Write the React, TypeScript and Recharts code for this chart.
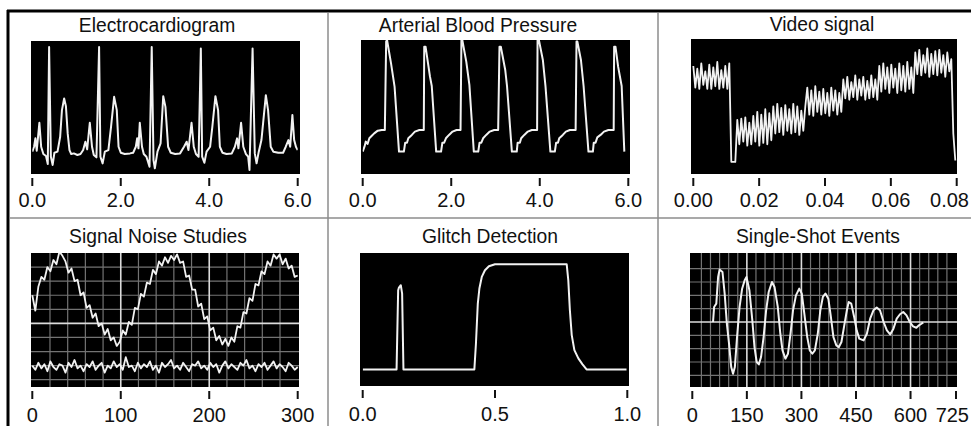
import type { ReactNode } from 'react'
import { CartesianGrid, Line, LineChart, ReferenceLine, XAxis, YAxis } from 'recharts'

const FONT = '"Liberation Sans", Arial, Helvetica, sans-serif'
const INK = '#111'
const TRACE = '#f2f2f2'
const GRID = '#737373'
const MAJOR = '#dcdcdc'
const TICK_SIZE = 20

// Electrocardiogram: [seconds, level 0..100]
const ecgTrace: [number, number][] = [
  [0, 16.8], [0.04, 20.5], [0.07, 26.8], [0.1, 17.5], [0.16, 38.5], [0.2, 20.5], [0.25, 15], [0.31, 13.5],
  [0.35, 7.5], [0.38, 95.5], [0.42, 13], [0.46, 6.8], [0.5, 16], [0.57, 16.8], [0.63, 28], [0.67, 48],
  [0.72, 56.8], [0.76, 51], [0.8, 30.5], [0.84, 18], [0.88, 15], [0.94, 15.5], [1.02, 14.3], [1.09, 15],
  [1.15, 18], [1.2, 24.3], [1.24, 18.5], [1.3, 38.5], [1.35, 20.5], [1.39, 14.3], [1.45, 12.5], [1.51, 95.5],
  [1.54, 13], [1.59, 8], [1.64, 16.8], [1.72, 18], [1.78, 35.5], [1.85, 58], [1.91, 48], [1.95, 20.5],
  [2, 16], [2.09, 15], [2.21, 15.5], [2.28, 16], [2.34, 20.5], [2.37, 26.8], [2.4, 19.3], [2.43, 38.5],
  [2.48, 20.5], [2.52, 15], [2.58, 13], [2.65, 5.5], [2.7, 95.5], [2.74, 10.5], [2.77, 4.3], [2.83, 16.8],
  [2.9, 23], [2.96, 58.5], [3.01, 50.5], [3.07, 20.5], [3.13, 16], [3.23, 15], [3.34, 15.5], [3.43, 20.5],
  [3.49, 24.3], [3.53, 18], [3.6, 38.5], [3.65, 20.5], [3.7, 15], [3.76, 13], [3.81, 94.3], [3.84, 13],
  [3.89, 8.5], [3.94, 16.8], [4.02, 20.5], [4.07, 35.5], [4.14, 58.5], [4.2, 48], [4.24, 20.5], [4.3, 16],
  [4.39, 15], [4.51, 15.5], [4.58, 20.5], [4.63, 26.8], [4.66, 19.3], [4.72, 38.5], [4.77, 20.5], [4.83, 15],
  [4.88, 13], [4.91, 3], [4.98, 94.3], [5.03, 15.5], [5.07, 8], [5.12, 16.8], [5.18, 25.5], [5.28, 59.3],
  [5.33, 48], [5.39, 20.5], [5.45, 16.8], [5.56, 16], [5.67, 16], [5.73, 20.5], [5.79, 25.5], [5.83, 20.5],
  [5.88, 44.3], [5.92, 25.5], [5.96, 20.5], [6, 18],
]
const ecgTicks = [0, 2, 4, 6]

// Arterial blood pressure: [seconds, level 0..100]
const abpTrace: [number, number][] = [
  [0, 16.8], [0.04, 20.5], [0.07, 24.3], [0.11, 22.5], [0.15, 26.8], [0.2, 28.5], [0.26, 30.5], [0.34, 32.5],
  [0.43, 33], [0.5, 33], [0.53, 99.3], [0.55, 100.5], [0.64, 83], [0.72, 65.5], [0.82, 16.8], [0.93, 16.8],
  [0.96, 23.5], [1, 23.5], [1.03, 26.8], [1.11, 29.3], [1.18, 31.8], [1.28, 33], [1.38, 33], [1.39, 95.5],
  [1.42, 95.5], [1.52, 73], [1.56, 66], [1.66, 16.8], [1.77, 16.8], [1.8, 23.5], [1.84, 23.5], [1.88, 26.8],
  [1.95, 29.3], [2.03, 31.8], [2.12, 33], [2.21, 33], [2.23, 100.5], [2.25, 100.5], [2.34, 84.3], [2.41, 66.8],
  [2.51, 16.8], [2.61, 16.8], [2.64, 23.5], [2.68, 23.5], [2.72, 26.8], [2.79, 29.3], [2.87, 31.8], [2.97, 33],
  [3.06, 33], [3.09, 95.5], [3.12, 95.5], [3.22, 78], [3.26, 66], [3.37, 16.8], [3.48, 16.8], [3.5, 23.5],
  [3.55, 23.5], [3.58, 26.8], [3.65, 29.3], [3.73, 31.8], [3.82, 33], [3.94, 33], [3.95, 100.5], [3.98, 100.5],
  [4.07, 85.5], [4.13, 65.5], [4.24, 16.8], [4.34, 16.8], [4.37, 23.5], [4.41, 23.5], [4.44, 26.8], [4.52, 29.3],
  [4.59, 31.8], [4.68, 33], [4.81, 33], [4.83, 99.3], [4.85, 99.3], [4.93, 85.5], [4.99, 66], [5.1, 16.8],
  [5.2, 16.8], [5.22, 23.5], [5.26, 23.5], [5.3, 27.5], [5.38, 29.5], [5.45, 31.8], [5.55, 33], [5.67, 33],
  [5.68, 95.5], [5.71, 95.5], [5.77, 80.5], [5.85, 66], [5.91, 16.8],
]
const abpTicks = [0, 2, 4, 6]

// Video signal: evenly sampled levels 0..100 across the trace
const videoLevels = [
  80, 64, 78, 63, 82, 66, 76, 63, 81, 63, 79, 65, 83, 63, 77, 64, 80, 63, 82,
  9, 9, 9, 40,
  22, 41, 24, 42, 21, 38, 22, 43,
  24, 46, 21, 44, 23, 48, 22, 45, 25,
  50, 30, 52, 31, 49, 29, 51, 32, 48, 30, 52, 31, 50, 29, 47, 32, 50,
  64, 44, 62, 43, 65, 46, 61, 44, 63, 45, 60, 43, 64, 47, 62, 44, 60, 46,
  70, 56, 72, 55, 68, 57, 73, 55, 70, 58, 72, 55, 69, 56, 73, 57, 70, 55,
  80, 61, 82, 63, 79, 60, 81, 64, 78, 60, 82, 62, 80, 61, 83, 63, 79, 60,
  90, 74, 92, 73, 88, 75, 93, 72, 89, 74, 91, 73, 92, 75, 88, 72, 90, 76, 85,
  30, 10,
]
const videoTicks = [0, 0.02, 0.04, 0.06, 0.08]

// Signal noise studies: noisy sine and noise floor, evenly sampled
const noiseSine = [
  20, 9, 26, 33, 31, 40, 37, 45, 42, 51,
  48, 44, 36, 39, 30, 31, 20, 22, 11, 13,
  4, 7, -2, 0, -8, -4, -12, -10, -16, -13,
  -5, -8, 1, -1, 11, 10, 21, 19, 29, 28,
  38, 35, 44, 41, 47, 43, 48, 45, 49, 43,
  44, 33, 34, 24, 24, 12, 14, 3, 5, -5,
  -3, -12, -9, -15, -11, -16, -10, -13, -2, -3,
  8, 7, 18, 16, 28, 27, 37, 35, 44, 41,
  49, 46, 49, 42, 46, 39, 41, 33, 34,
]
const noiseFloor = [
  -30, -33, -28, -32, -29, -34, -27, -31, -33, -29,
  -30, -35, -28, -31, -26, -32, -30, -34, -29, -31,
  -27, -33, -30, -28, -35, -30, -32, -27, -31, -29,
  -33, -24, -31, -30, -34, -28, -32, -29, -31, -27,
  -33, -30, -35, -28, -31, -29, -26, -32, -30, -33,
  -28, -31, -34, -29, -30, -27, -32, -30, -33, -28,
  -31, -29, -35, -30, -27, -32, -29, -31, -33, -28,
  -30, -26, -32, -30, -34, -29, -31, -28, -33, -30,
  -27, -32, -29, -31, -34, -28, -30, -33, -31,
]
const noiseTicks = [0, 100, 200, 300]
const noiseGridX = [20, 40, 60, 80, 120, 140, 160, 180, 220, 240, 260, 280]
const noiseMajorX = [100, 200]
const noiseGridY = [-40, -30, -20, -10, 10, 20, 30, 40]

// Glitch detection: [seconds, level 0..100]
const glitchTrace: [number, number][] = [
  [0, 12.5], [0.128, 12.5], [0.134, 72], [0.137, 74], [0.144, 75.8], [0.149, 69.5], [0.154, 12.5],
  [0.422, 12.5], [0.428, 32], [0.435, 62], [0.441, 73.3], [0.45, 82], [0.462, 87], [0.477, 90],
  [0.5, 91.5], [0.771, 91.5], [0.777, 79.5], [0.783, 57], [0.79, 38.3], [0.8, 27], [0.815, 20.8],
  [0.83, 16.5], [0.846, 12.5], [0.997, 12.5],
]
const glitchTicks = [0, 0.5, 1]

// Single-shot events: damped ringing [time, level]
const shotTrace: [number, number][] = [
  [57, 0], [60, 11.3], [66, 13.8], [71, 33.8], [75, 39.3], [83, 37.5], [89, 21.3], [95, -1.3],
  [101, -16.3], [107, -33.8], [112, -38.8], [117, -33.8], [123, -11.3], [130, 11.3], [137, 25], [144, 31.3],
  [149, 33.8], [157, 23.8], [165, 1.3], [171, -18.8], [177, -30], [183, -31.8], [189, -26.3], [196, -11.3],
  [203, 8.8], [210, 22.5], [219, 30], [226, 26.3], [235, 11.3], [242, -8.8], [248, -21.3], [256, -27.5],
  [263, -23.8], [270, -8.8], [277, 8.8], [285, 20], [294, 25], [301, 21.3], [308, 6.3], [316, -11.3],
  [323, -21.3], [330, -23.8], [337, -21.3], [345, -8.8], [352, 8.8], [359, 18.8], [366, 21.3], [374, 17.5],
  [381, 3.8], [388, -11.3], [396, -17.5], [403, -18.8], [410, -15], [417, -3.8], [425, 8.8], [430, 15],
  [437, 13.8], [445, 3.8], [452, -6.3], [459, -12.5], [471, -13.8], [480, -8.8], [489, 2.5], [498, 8.8],
  [507, 10.8], [516, 8.8], [526, 0], [535, -6.3], [544, -9.3], [553, -5], [562, 2.5], [571, 5.8],
  [580, 7.5], [589, 5], [598, 0], [607, -3.3], [616, -4.3], [623, -2.5], [630, -1.3], [635, -0.5],
]
const shotTicks = [0, 150, 300, 450, 600, 725]
const shotGridX = [25, 50, 75, 100, 125, 175, 200, 225, 250, 275, 325, 350, 375, 400, 425, 475, 500, 525, 550, 575, 625, 650, 675, 700]
const shotMajorX = [150, 300, 450, 600]
const shotGridY = [-40, -30, -20, -10, 10, 20, 30, 40]

const pairs = (trace: [number, number][]) => trace.map(([t, v]) => ({ t, v }))

type Box = { x: number; y: number; w: number; h: number }

function ScopeTick(props: any) {
  const { x, y, payload, fmt, labelDy, maxRight } = props
  const label = fmt(payload.value)
  // keep a label from running off the page edge when a limit is given
  const half = label.length * 0.278 * TICK_SIZE
  const pinned = maxRight != null && x + half > maxRight
  return (
    <g>
      <line x1={x} x2={x} y1={y + 4} y2={y + 12} stroke={INK} strokeWidth={2} />
      <text
        x={pinned ? maxRight : x}
        y={y + labelDy}
        textAnchor={pinned ? 'end' : 'middle'}
        fontSize={TICK_SIZE}
        fill={INK}
        fontFamily={FONT}
      >
        {label}
      </text>
    </g>
  )
}

const SIDE = 34
const PAGE_W = 971

type ScopeProps = {
  box: Box
  data: Record<string, number>[]
  xDomain: [number, number]
  yDomain: [number, number]
  ticks: number[]
  fmt: (v: number) => string
  pad: [number, number]
  samplePad?: [number, number]
  labelDy: number
  keepInPage?: boolean
  children: ReactNode
}

function Scope({ box, data, xDomain, yDomain, ticks, fmt, pad, samplePad, labelDy, keepInPage, children }: ScopeProps) {
  const maxRight = keepInPage ? PAGE_W - 2 - (box.x - SIDE) : undefined
  return (
    <div style={{ position: 'absolute', left: box.x - SIDE, top: box.y }}>
      <LineChart
        width={box.w + SIDE * 2}
        height={box.h + 46}
        data={data}
        margin={{ top: 0, right: SIDE, bottom: 0, left: SIDE }}
      >
        <CartesianGrid fill="#000" horizontal={false} vertical={false} />
        <XAxis
          type="number"
          dataKey="t"
          domain={xDomain}
          allowDataOverflow
          ticks={ticks}
          interval={0}
          padding={{ left: pad[0], right: pad[1] }}
          height={46}
          axisLine={false}
          tickLine={false}
          tickSize={0}
          tickMargin={0}
          tick={(p: any) => <ScopeTick {...p} fmt={fmt} labelDy={labelDy} maxRight={maxRight} />}
        />
        {samplePad && (
          <XAxis
            xAxisId="s"
            type="category"
            scale="point"
            hide
            padding={{ left: samplePad[0], right: samplePad[1] }}
          />
        )}
        <YAxis hide type="number" domain={yDomain} allowDataOverflow />
        {children}
      </LineChart>
    </div>
  )
}

const trace = (key: string, axis?: string, width = 2) => (
  <Line
    key={key}
    xAxisId={axis ?? 0}
    type="linear"
    dataKey={key}
    stroke={TRACE}
    strokeWidth={width}
    strokeLinejoin="round"
    dot={false}
    activeDot={false}
    isAnimationActive={false}
  />
)

const gridX = (values: number[], color: string, w: number) =>
  values.map((v) => <ReferenceLine key={`gx-${color}-${v}`} x={v} stroke={color} strokeWidth={w} />)
const gridY = (values: number[], color: string, w: number) =>
  values.map((v) => <ReferenceLine key={`gy-${color}-${v}`} y={v} stroke={color} strokeWidth={w} />)

const fixed = (d: number) => (v: number) => v.toFixed(d)
const plain = (v: number) => String(v)

const titles = [
  { text: 'Electrocardiogram', x: 157, y: 32 },
  { text: 'Arterial Blood Pressure', x: 478, y: 32 },
  { text: 'Video signal', x: 822, y: 31 },
  { text: 'Signal Noise Studies', x: 158, y: 243 },
  { text: 'Glitch Detection', x: 490, y: 243 },
  { text: 'Single-Shot Events', x: 818, y: 243 },
]

export default function App() {
  const noiseData = noiseSine.map((s, i) => ({ s, n: noiseFloor[i] }))
  return (
    <div
      style={{
        position: 'absolute',
        left: 0,
        top: 0,
        width: PAGE_W,
        height: 426,
        overflow: 'hidden',
        background: '#fff',
        fontFamily: FONT,
      }}
    >
      <svg width={PAGE_W} height={426} style={{ position: 'absolute', left: 0, top: 0 }}>
        <line x1={7} y1={11} x2={PAGE_W} y2={11} stroke="#000" strokeWidth={3} />
        <line x1={8} y1={10} x2={8} y2={426} stroke="#000" strokeWidth={3} />
        <line x1={10} y1={218} x2={PAGE_W} y2={218} stroke="#8c8c8c" strokeWidth={1.5} />
        <line x1={328} y1={13} x2={328} y2={426} stroke="#8c8c8c" strokeWidth={1.5} />
        <line x1={658} y1={13} x2={658} y2={426} stroke="#8c8c8c" strokeWidth={1.5} />
        {titles.map((t) => (
          <text key={t.text} x={t.x} y={t.y} textAnchor="middle" fontSize={19.3} fill={INK} fontFamily={FONT}>
            {t.text}
          </text>
        ))}
      </svg>

      <Scope
        box={{ x: 31, y: 41, w: 269, h: 133 }}
        data={pairs(ecgTrace)}
        xDomain={[0, 6]}
        yDomain={[0, 100]}
        ticks={ecgTicks}
        fmt={fixed(1)}
        pad={[1.3, 2.3]}
        labelDy={33}
      >
        {trace('v')}
      </Scope>

      <Scope
        box={{ x: 361, y: 40, w: 269, h: 134 }}
        data={pairs(abpTrace)}
        xDomain={[0, 6]}
        yDomain={[0, 100.5]}
        ticks={abpTicks}
        fmt={fixed(1)}
        pad={[1.7, 1.7]}
        labelDy={33}
      >
        {trace('v')}
      </Scope>

      <Scope
        box={{ x: 691, y: 39, w: 266, h: 135 }}
        data={videoLevels.map((v) => ({ v }))}
        xDomain={[0, 0.08]}
        yDomain={[0, 100]}
        ticks={videoTicks}
        fmt={fixed(2)}
        pad={[2.3, 0.3]}
        samplePad={[2.3, 1.7]}
        labelDy={33}
        keepInPage
      >
        {trace('v', 's', 1.8)}
      </Scope>

      <Scope
        box={{ x: 31, y: 253, w: 268, h: 134 }}
        data={noiseData}
        xDomain={[0, 300]}
        yDomain={[-45.2, 50]}
        ticks={noiseTicks}
        fmt={plain}
        pad={[1.3, 1.3]}
        samplePad={[1.3, 1.3]}
        labelDy={35}
      >
        {gridX(noiseGridX, GRID, 1.2)}
        {gridY(noiseGridY, GRID, 1.2)}
        {gridX(noiseMajorX, MAJOR, 1.6)}
        {gridY([0], MAJOR, 1.6)}
        {trace('s', 's', 1.8)}
        {trace('n', 's', 1.8)}
      </Scope>

      <Scope
        box={{ x: 360, y: 253, w: 269, h: 133 }}
        data={pairs(glitchTrace)}
        xDomain={[0, 1]}
        yDomain={[0, 100]}
        ticks={glitchTicks}
        fmt={fixed(1)}
        pad={[2.7, 1.7]}
        labelDy={35}
      >
        {trace('v')}
      </Scope>

      <Scope
        box={{ x: 690, y: 253, w: 267, h: 134 }}
        data={pairs(shotTrace)}
        xDomain={[0, 725]}
        yDomain={[-48.75, 51.75]}
        ticks={shotTicks}
        fmt={plain}
        pad={[2.3, 1]}
        labelDy={35}
        keepInPage
      >
        {gridX(shotGridX, GRID, 1.2)}
        {gridY(shotGridY, GRID, 1.2)}
        {gridX(shotMajorX, MAJOR, 1.6)}
        {gridY([0], MAJOR, 1.6)}
        {trace('v')}
      </Scope>
    </div>
  )
}
